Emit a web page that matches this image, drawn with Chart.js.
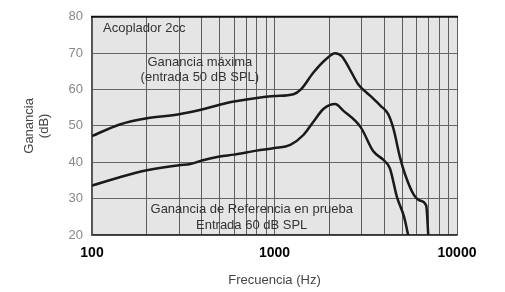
<!DOCTYPE html>
<html>
<head>
<meta charset="utf-8">
<script src="https://cdn.jsdelivr.net/npm/chart.js@4.4.0/dist/chart.umd.min.js"></script>
<style>
  html, body { margin: 0; padding: 0; background: #fff; }
  #wrap { width: 505px; height: 292px; }
</style>
</head>
<body>
<div id="wrap"><canvas id="graf"></canvas></div>
<script>
// frecuencias (Hz) y ganancias (dB)
var freqMax = [100, 142, 200, 300, 400, 500, 600, 800, 1000, 1270, 1400, 1630, 1900, 2150, 2340, 2590, 2880, 3340, 3800, 4190, 4480, 4880, 5190, 5760, 6250, 6780, 6960];
var gainMax = [47.2, 50.4, 52.1, 53.2, 54.5, 55.8, 56.7, 57.7, 58.2, 58.7, 60.1, 64.6, 68.2, 70.0, 69.1, 65.5, 61.4, 58.3, 55.6, 53.3, 49.3, 41.2, 36.7, 31.3, 29.5, 28.1, 20.0];

var freqRef = [100, 142, 200, 300, 345, 400, 500, 600, 800, 1000, 1220, 1440, 1630, 1860, 2150, 2380, 2970, 3480, 3940, 4290, 4690, 5130, 5400];
var gainRef = [33.6, 35.9, 37.8, 39.2, 39.5, 40.5, 41.6, 42.1, 43.2, 43.9, 44.8, 47.5, 51.1, 54.7, 56.0, 54.2, 49.6, 43.0, 40.7, 38.3, 30.4, 25.0, 20.0];

var xGrid = [100, 200, 300, 400, 500, 600, 700, 800, 900, 1000, 2000, 3000, 4000, 5000, 6000, 7000, 8000, 9000, 10000];
var xLabels = [100, 1000, 10000];

function pts(xs, ys) {
  return xs.map(function (v, i) { return { x: v, y: ys[i] }; });
}

var notas = [
  { text: "Acoplador 2cc", f: 115, g: 76.8, align: "left" },
  { text: "Ganancia máxima", f: 390, g: 67.4, align: "center" },
  { text: "(entrada 50 dB SPL)", f: 390, g: 63.2, align: "center" },
  { text: "Ganancia de Referencia en prueba", f: 750, g: 27.0, align: "center" },
  { text: "Entrada 60 dB SPL", f: 750, g: 22.6, align: "center" }
];

var fondo = {
  id: "fondo",
  beforeDraw: function (chart) {
    var c = chart.ctx, a = chart.chartArea;
    c.save();
    c.fillStyle = "#fff";
    c.fillRect(0, 0, chart.width, chart.height);
    c.fillStyle = "#e5e5e5";
    c.fillRect(a.left, a.top, a.right - a.left, a.bottom - a.top);
    c.restore();
  },
  afterDraw: function (chart) {
    var c = chart.ctx, a = chart.chartArea;
    var sx = chart.scales.x, sy = chart.scales.y;
    c.save();
    c.strokeStyle = "#111";
    c.lineWidth = 2;
    c.beginPath();
    c.moveTo(a.left - 1, a.top);
    c.lineTo(a.right + 1, a.top);
    c.stroke();
    c.fillStyle = "#333";
    c.font = "13px 'Liberation Sans', Arial, sans-serif";
    c.textBaseline = "middle";
    notas.forEach(function (n) {
      c.textAlign = n.align;
      c.fillText(n.text, sx.getPixelForValue(n.f), sy.getPixelForValue(n.g));
    });
    c.restore();
  }
};

new Chart(document.getElementById("graf"), {
  type: "scatter",
  data: {
    datasets: [
      {
        label: "Ganancia máxima",
        data: pts(freqMax, gainMax),
        showLine: true,
        borderColor: "#1a1a1a",
        borderWidth: 2.5,
        pointRadius: 0,
        cubicInterpolationMode: "monotone"
      },
      {
        label: "Ganancia de referencia",
        data: pts(freqRef, gainRef),
        showLine: true,
        borderColor: "#1a1a1a",
        borderWidth: 2.5,
        pointRadius: 0,
        cubicInterpolationMode: "monotone"
      }
    ]
  },
  options: {
    responsive: true,
    maintainAspectRatio: false,
    animation: false,
    layout: { padding: { top: 13, right: 48, left: 22, bottom: 0 } },
    plugins: {
      legend: { display: false },
      tooltip: { enabled: false }
    },
    scales: {
      x: {
        type: "logarithmic",
        min: 100,
        max: 10000,
        afterBuildTicks: function (scale) {
          scale.ticks = xGrid.map(function (v) { return { value: v }; });
        },
        afterFit: function (scale) { scale.height = 57; },
        ticks: {
          autoSkip: false,
          maxRotation: 0,
          color: "#000",
          padding: 10,
          font: { family: "'Liberation Sans', Arial, sans-serif", size: 14, weight: "bold" },
          callback: function (v) {
            return xLabels.indexOf(v) >= 0 ? String(v) : "";
          }
        },
        grid: { color: "#5e5e5e", lineWidth: 1, drawTicks: false },
        border: { color: "#333", width: 1.5 },
        title: {
          display: true,
          text: "Frecuencia (Hz)",
          color: "#444",
          font: { family: "'Liberation Sans', Arial, sans-serif", size: 13 },
          padding: { top: 0, bottom: 4 }
        }
      },
      y: {
        min: 20,
        max: 80,
        afterFit: function (scale) { scale.width = 70; },
        ticks: {
          stepSize: 10,
          color: "#888",
          padding: 9,
          font: { family: "'Liberation Sans', Arial, sans-serif", size: 13 }
        },
        grid: { color: "#666", lineWidth: 1, drawTicks: false },
        border: { color: "#555", width: 1.5 },
        title: {
          display: true,
          text: ["Ganancia", "(dB)"],
          color: "#444",
          font: { family: "'Liberation Sans', Arial, sans-serif", size: 13, lineHeight: 1.15 },
          padding: { top: 0, bottom: 0 }
        }
      }
    }
  },
  plugins: [fondo]
});
</script>
</body>
</html>
